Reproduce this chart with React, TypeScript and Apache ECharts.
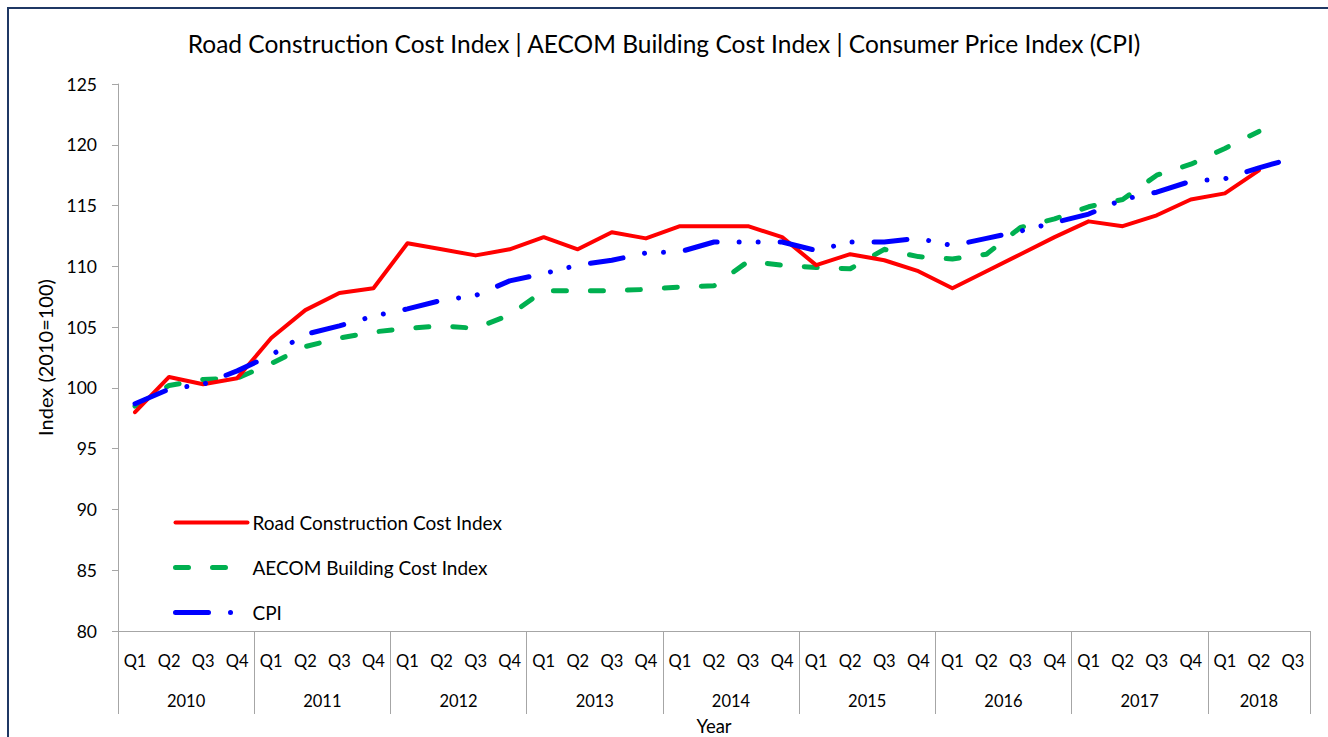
import React, { useEffect, useRef } from "react";
import * as echarts from "echarts";

const years = ["2010", "2011", "2012", "2013", "2014", "2015", "2016", "2017", "2018"];
const quartersPerYear = [4, 4, 4, 4, 4, 4, 4, 4, 3];
const quarterNames = ["Q1", "Q2", "Q3", "Q4"];

const roadIndex = [
  98.0, 100.9, 100.3, 100.8,
  104.1, 106.4, 107.8, 108.2,
  111.9, 111.4, 110.9, 111.4,
  112.4, 111.4, 112.8, 112.3,
  113.3, 113.3, 113.3, 112.4,
  110.1, 111.0, 110.5, 109.6,
  108.2, 109.6, 111.0, 112.4,
  113.7, 113.3, 114.2, 115.5,
  116.0, 117.9, null,
];

const aecomIndex = [
  98.5, 100.2, 100.7, 100.8,
  102.0, 103.4, 104.1, 104.6,
  104.9, 105.1, 104.9, 106.0,
  108.0, 108.0, 108.0, 108.1,
  108.3, 108.4, 110.4, 110.1,
  109.9, 109.8, 111.4, 110.8,
  110.6, 111.0, 113.2, 113.9,
  114.9, 115.5, 117.5, 118.4,
  119.7, 121.1, null,
];

const cpiIndex = [
  98.7, 99.9, 100.3, 101.4,
  102.7, 104.4, 105.1, 105.9,
  106.5, 107.2, 107.6, 108.8,
  109.4, 110.1, 110.5, 111.1,
  111.2, 112.0, 112.0, 112.0,
  111.3, 112.0, 112.0, 112.3,
  111.7, 112.3, 112.9, 113.6,
  114.3, 115.5, 116.1, 117.0,
  117.2, 118.1, 118.9,
];

const seriesNames = ["Road Construction Cost Index", "AECOM Building Cost Index", "CPI"];
const titleText = "Road Construction Cost Index | AECOM Building Cost Index | Consumer Price Index (CPI)";

const FONT = "Lato";

export default function App() {
  const ref = useRef<HTMLDivElement>(null);

  useEffect(() => {
    if (!ref.current) return;
    const chart = echarts.init(ref.current, undefined, { renderer: "svg" });

    const quarterCats: string[] = [];
    const yearCats: string[] = [];
    const yearStart: number[] = [];
    years.forEach((y, yi) => {
      yearStart.push(quarterCats.length);
      for (let q = 0; q < quartersPerYear[yi]; q++) {
        quarterCats.push(quarterNames[q]);
        yearCats.push(y);
      }
    });
    const boundarySet = new Set(yearStart);

    const yearLabelAt: Record<number, { year: string; even: boolean }> = {};
    years.forEach((y, yi) => {
      const n = quartersPerYear[yi];
      const idx = yearStart[yi] + Math.floor((n - 1) / 2);
      yearLabelAt[idx] = { year: y, even: n % 2 === 0 };
    });

    const axisGray = "#A6A6A6";

    chart.setOption({
      animation: false,
      backgroundColor: "#ffffff",
      title: {
        text: titleText,
        left: "center",
        top: 31,
        padding: [0, 0, 0, 8],
        textStyle: { fontFamily: FONT, fontSize: 24.5, fontWeight: "normal", color: "#000" },
      },
      graphic: [
        {
          type: "rect",
          shape: { x: 8, y: 8, width: 1360, height: 780 },
          style: { fill: "none", stroke: "#1F3864", lineWidth: 2 },
          silent: true,
          z: 100,
        },
      ],
      legend: {
        data: seriesNames,
        orient: "vertical",
        left: 168,
        top: 508,
        itemWidth: 72,
        itemHeight: 14,
        itemGap: 26,
        itemStyle: { opacity: 0 },
        lineStyle: { width: "inherit", type: "inherit", cap: "inherit" },
        textStyle: { fontFamily: FONT, fontSize: 19, color: "#000" },
      },
      grid: { left: 118, right: 18, top: 84, bottom: 106, containLabel: false, outerBoundsMode: "none" },
      xAxis: [
        {
          type: "category",
          data: quarterCats,
          boundaryGap: true,
          name: "Year",
          nameLocation: "middle",
          nameGap: 85,
          nameTextStyle: { fontFamily: FONT, fontSize: 18.5, color: "#000" },
          axisLine: { show: true, lineStyle: { color: axisGray, width: 1 } },
          axisTick: {
            show: true,
            length: 83,
            interval: (i: number) => boundarySet.has(i),
            lineStyle: { color: axisGray, width: 1 },
          },
          axisLabel: {
            interval: 0,
            margin: 21,
            fontFamily: FONT,
            fontSize: 16.5,
            color: "#000",
          },
          splitLine: { show: false },
        },
        {
          type: "category",
          data: yearCats,
          position: "bottom",
          boundaryGap: true,
          axisLine: { show: false },
          axisTick: { show: false },
          splitLine: { show: false },
          axisLabel: {
            interval: 0,
            margin: 61,
            fontFamily: FONT,
            fontSize: 16.5,
            color: "#000",
            formatter: (v: string, i: number) => {
              const info = yearLabelAt[i];
              if (!info) return "";
              return info.even ? "{e|" + info.year + "}" : "{o|" + info.year + "}";
            },
            rich: {
              e: { padding: [0, 0, 0, 34], fontFamily: FONT, fontSize: 16.5, color: "#000" },
              o: { fontFamily: FONT, fontSize: 16.5, color: "#000" },
            },
          },
        },
      ],
      yAxis: {
        type: "value",
        min: 80,
        max: 125,
        interval: 5,
        name: "Index (2010=100)",
        nameLocation: "middle",
        nameGap: 63,
        nameTextStyle: { fontFamily: FONT, fontSize: 20, color: "#000" },
        axisLine: { show: true, lineStyle: { color: axisGray, width: 1 } },
        axisTick: { show: true, length: 6, lineStyle: { color: axisGray } },
        axisLabel: { margin: 21, fontFamily: FONT, fontSize: 17.5, color: "#000" },
        splitLine: { show: false },
      },
      series: [
        {
          name: seriesNames[0],
          type: "line",
          xAxisIndex: 0,
          data: roadIndex,
          symbol: "none",
          lineStyle: { color: "#FF0000", width: 4, cap: "round", join: "round" },
          itemStyle: { color: "#FF0000" },
          z: 3,
        },
        {
          name: seriesNames[1],
          type: "line",
          xAxisIndex: 0,
          data: aecomIndex,
          symbol: "none",
          lineStyle: { color: "#00B050", width: 5, type: [13, 24], cap: "round", join: "round" },
          itemStyle: { color: "#00B050" },
          z: 2,
        },
        {
          name: seriesNames[2],
          type: "line",
          xAxisIndex: 0,
          data: cpiIndex,
          symbol: "none",
          lineStyle: { color: "#0000FF", width: 5, type: [33, 22, 0.01, 19, 0.01, 22], cap: "round", join: "round" },
          itemStyle: { color: "#0000FF" },
          z: 4,
        },
      ],
    });

    return () => chart.dispose();
  }, []);

  return (
    <div
      ref={ref}
      style={{ position: "fixed", left: 0, top: 0, width: 1328, height: 737, background: "#fff" }}
    />
  );
}
